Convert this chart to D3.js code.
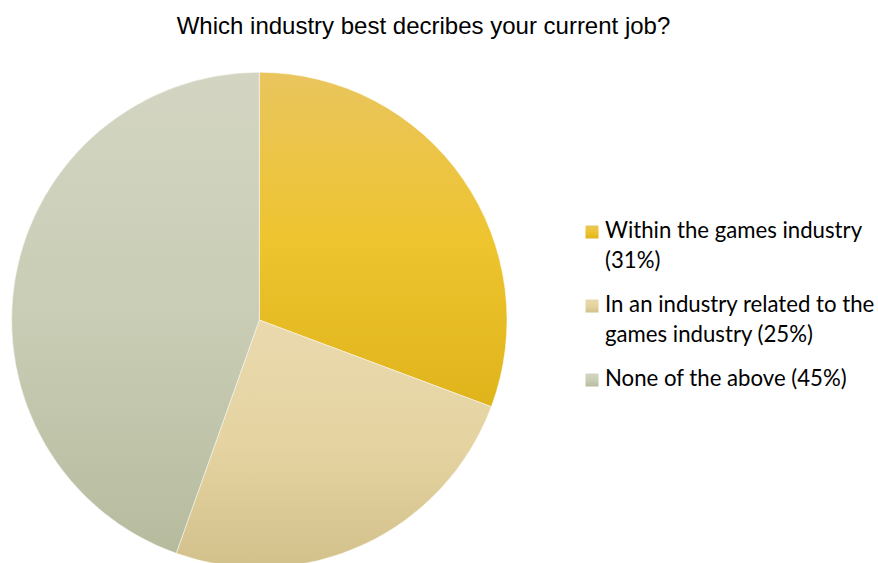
<!DOCTYPE html>
<html>
<head>
<meta charset="utf-8">
<script src="https://cdn.jsdelivr.net/npm/d3@7"></script>
<style>
  html, body { margin: 0; padding: 0; background: #ffffff; }
  svg { display: block; }
</style>
</head>
<body>
<svg id="chart" width="878" height="563"></svg>
<script>
// Survey answers: share of respondents per industry
const categories = [
  "Within the games industry",
  "In an industry related to the games industry",
  "None of the above"
];
const values = [31, 25, 45];
const legendLines = [
  ["Within the games industry", "(31%)"],
  ["In an industry related to the", "games industry (25%)"],
  ["None of the above (45%)"]
];
const titleText = "Which industry best decribes your current job?";

// Vertical gradient stops (top, middle, bottom) for each slice
const gradientStops = [
  ["#E9C55E", "#EEC42F", "#DFB41B"],
  ["#E9D9AD", "#E5D3A1", "#D2C18B"],
  ["#D3D5C2", "#C9CDB5", "#B7BB9E"]
];

const width = 878, height = 563;
const svg = d3.select("#chart");

const defs = svg.append("defs");
gradientStops.forEach((stops, i) => {
  const g = defs.append("linearGradient")
    .attr("id", "slice-grad-" + i)
    .attr("x1", 0).attr("y1", 0).attr("x2", 0).attr("y2", 1);
  stops.forEach((c, j) => {
    g.append("stop").attr("offset", j / (stops.length - 1)).attr("stop-color", c);
  });
});

// Title
svg.append("text")
  .attr("x", 423.5)
  .attr("y", 34)
  .attr("text-anchor", "middle")
  .attr("font-family", "'Liberation Sans', Arial, sans-serif")
  .attr("font-size", 24)
  .attr("fill", "#000")
  .text(titleText);

// Pie
const cx = 259.3, cy = 320, radius = 247.7;
const pie = d3.pie().sort(null).value(d => d)(values);
const arc = d3.arc().innerRadius(0).outerRadius(radius);

const pieG = svg.append("g").attr("transform", `translate(${cx},${cy})`);
pieG.selectAll("path")
  .data(pie)
  .join("path")
  .attr("d", arc)
  .attr("fill", (d, i) => `url(#slice-grad-${i})`)
  .attr("stroke", "#ffffff")
  .attr("stroke-opacity", 0.6)
  .attr("stroke-width", 0.8);

// Legend
const legendX = 585.5, textX = 605;
const firstBaselines = [238, 312, 386];
const lineHeight = 30;
const legend = svg.append("g")
  .attr("font-family", "Lato, 'Open Sans', sans-serif")
  .attr("font-size", 22.2)
  .attr("fill", "#000");

categories.forEach((cat, i) => {
  const y0 = firstBaselines[i];
  legend.append("rect")
    .attr("x", legendX)
    .attr("y", y0 - 12.5)
    .attr("width", 13)
    .attr("height", 13)
    .attr("fill", `url(#slice-grad-${i})`);
  const t = legend.append("text").attr("x", textX).attr("y", y0);
  legendLines[i].forEach((line, j) => {
    t.append("tspan")
      .attr("x", textX)
      .attr("y", y0 + j * lineHeight)
      .text(line);
  });
});
</script>
</body>
</html>
